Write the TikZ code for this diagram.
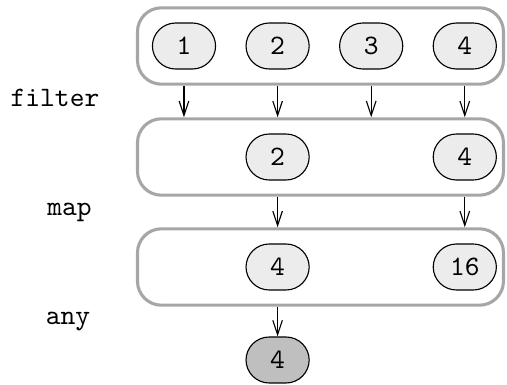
\documentclass[tikz,border=0pt]{standalone}
\usepackage{tikz}
\usetikzlibrary{positioning}
\usetikzlibrary{arrows.meta}
\usetikzlibrary{calc}

\tikzset{
    elem/.style={draw, thin, fill=gray!15, rounded corners=0.29cm, minimum width=0.79cm, minimum height=0.575cm, inner sep=0pt, font=\ttfamily},
    result/.style={elem, fill=gray!50},
    stream/.style={draw=gray!70, line width=1.1pt, rounded corners=0.3cm, minimum width=4.575cm, minimum height=0.955cm, inner sep=0pt},
    flow/.style={-{Straight Barb[length=1.8mm,width=1.2mm]}},
    oplabel/.style={anchor=base, font=\ttfamily}
}

\begin{document}
\begin{tikzpicture}[scale=1]
                \useasboundingbox (0,0) rectangle (6.3375,4.8125);

                % Define the coordinates of the streams
                \node[stream] (s1) at (4.006,4.2375) {};
                \node[stream] (s2) at (4.006,2.85) {};
                \node[stream] (s3) at (4.006,1.475) {};

                % Draw the elements
                \foreach \point/\x in {1/2.30, 2/3.47, 3/4.64, 4/5.81}
                    \node[elem] (a\point) at (\x,4.2375) {\point};
                \node[elem] (b2) at (3.47,2.85) {2};
                \node[elem] (b4) at (5.81,2.85) {4};
                \node[elem] (c4) at (3.47,1.475) {4};
                \node[elem] (c16) at (5.81,1.475) {16};
                \node[result] (r) at (3.47,0.3125) {4};

                % Draw the arrows
                \foreach \point in {1,2,3,4}
                    \draw[flow] (a\point |- s1.south) -- (a\point |- s2.north);
                \draw[flow] (b2 |- s2.south) -- (b2 |- s3.north);
                \draw[flow] (b4 |- s2.south) -- (b4 |- s3.north);
                \draw[flow] (c4 |- s3.south) -- (r);

                % Operations
                \node[oplabel] (filter) at (0.6875,3.4875) {filter};
                \node[oplabel] (map) at (0.87,2.1125) {map};
                \node[oplabel] (any) at (0.85,0.75) {any};

            \end{tikzpicture}
\end{document}
